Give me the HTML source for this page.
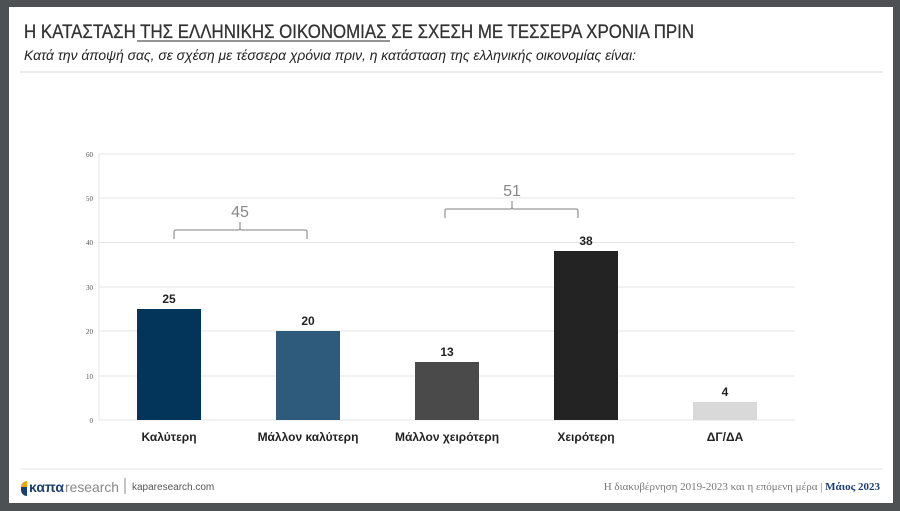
<!DOCTYPE html>
<html><head><meta charset="utf-8"><style>
body{margin:0;width:900px;height:511px;background:#4d5154;overflow:hidden;font-family:"Liberation Sans",sans-serif}
#p{position:absolute;left:9px;top:7px;width:884px;height:496px;background:#fff}
</style></head><body>
<div id="p"></div>
<svg width="900" height="511" style="position:absolute;left:0;top:0" font-family="Liberation Sans, sans-serif">
<text x="24" y="38" font-size="19.5" fill="#333" stroke="#333" stroke-width="0.3" textLength="670" lengthAdjust="spacingAndGlyphs">Η ΚΑΤΑΣΤΑΣΗ ΤΗΣ ΕΛΛΗΝΙΚΗΣ ΟΙΚΟΝΟΜΙΑΣ ΣΕ ΣΧΕΣΗ ΜΕ ΤΕΣΣΕΡΑ ΧΡΟΝΙΑ ΠΡΙΝ</text>
<line x1="137" y1="41" x2="390" y2="41" stroke="#555" stroke-width="1.2"/>
<text x="24" y="60" font-size="14" font-style="italic" fill="#222" textLength="612" lengthAdjust="spacingAndGlyphs">Κατά την άποψή σας, σε σχέση με τέσσερα χρόνια πριν, η κατάσταση της ελληνικής οικονομίας είναι:</text>
<line x1="20" y1="72" x2="883" y2="72" stroke="#e6e6e6" stroke-width="1.5"/>
<g stroke="#e4e4e4" stroke-width="1">
<line x1="99" y1="154" x2="795" y2="154"/><line x1="99" y1="198" x2="795" y2="198"/><line x1="99" y1="242.5" x2="795" y2="242.5"/><line x1="99" y1="287" x2="795" y2="287"/><line x1="99" y1="331" x2="795" y2="331"/><line x1="99" y1="376" x2="795" y2="376"/><line x1="99" y1="420" x2="795" y2="420"/>
<line x1="99" y1="154" x2="99" y2="420"/></g>
<g font-size="7" fill="#555" text-anchor="end" font-family="Liberation Serif, serif">
<text x="93" y="157">60</text><text x="93" y="201">50</text><text x="93" y="245">40</text><text x="93" y="290">30</text><text x="93" y="334">20</text><text x="93" y="379">10</text><text x="93" y="423">0</text></g>
<rect x="137" y="309" width="64" height="111" fill="#033459"/>
<rect x="276" y="331" width="64" height="89" fill="#2e5a7c"/>
<rect x="415" y="362" width="64" height="58" fill="#4a4a4a"/>
<rect x="554" y="251" width="64" height="169" fill="#232323"/>
<rect x="693" y="402" width="64" height="18" fill="#d9d9d9"/>
<g font-size="12" font-weight="bold" fill="#222" text-anchor="middle">
<text x="169" y="303">25</text><text x="308" y="325">20</text><text x="447" y="356">13</text><text x="586" y="245">38</text><text x="725" y="396">4</text>
<text x="169" y="441">Καλύτερη</text><text x="308" y="441">Μάλλον καλύτερη</text><text x="447" y="441">Μάλλον χειρότερη</text><text x="586" y="441">Χειρότερη</text><text x="725" y="441">ΔΓ/ΔΑ</text></g>
<g fill="none" stroke="#999" stroke-width="1.3">
<path d="M174 239V232Q174 230 176 230H238Q240 230 240 228V222M240 228Q240 230 242 230H305Q307 230 307 232V239"/>
<path d="M445 218V211Q445 209 447 209H510Q512 209 512 207V201M512 207Q512 209 514 209H576Q578 209 578 211V218"/></g>
<g font-size="16" fill="#888" text-anchor="middle"><text x="240" y="217">45</text><text x="512" y="196">51</text></g>
<line x1="20" y1="469" x2="883" y2="469" stroke="#eee" stroke-width="1.5"/>
<path d="M21 487 a6 6 0 0 1 6 -6 v6z" fill="#e8a90f"/><path d="M21 487 h6 v9 a6 6 0 0 1 -6 -6z" fill="#1c3f73"/>
<text x="29" y="492" font-size="14" fill="#1c3f73" font-weight="bold" textLength="35" lengthAdjust="spacingAndGlyphs">καπα</text>
<text x="65" y="492" font-size="14" fill="#888" textLength="54" lengthAdjust="spacingAndGlyphs">research</text>
<line x1="125" y1="478" x2="125" y2="494" stroke="#888"/>
<text x="132" y="490" font-size="10" fill="#555">kaparesearch.com</text>
<text x="880" y="490" font-size="11" fill="#777" text-anchor="end" font-family="Liberation Serif, serif">Η διακυβέρνηση 2019-2023 και η επόμενη μέρα | <tspan fill="#1c3f73" font-weight="bold">Μάιος 2023</tspan></text>
</svg>
</body></html>
